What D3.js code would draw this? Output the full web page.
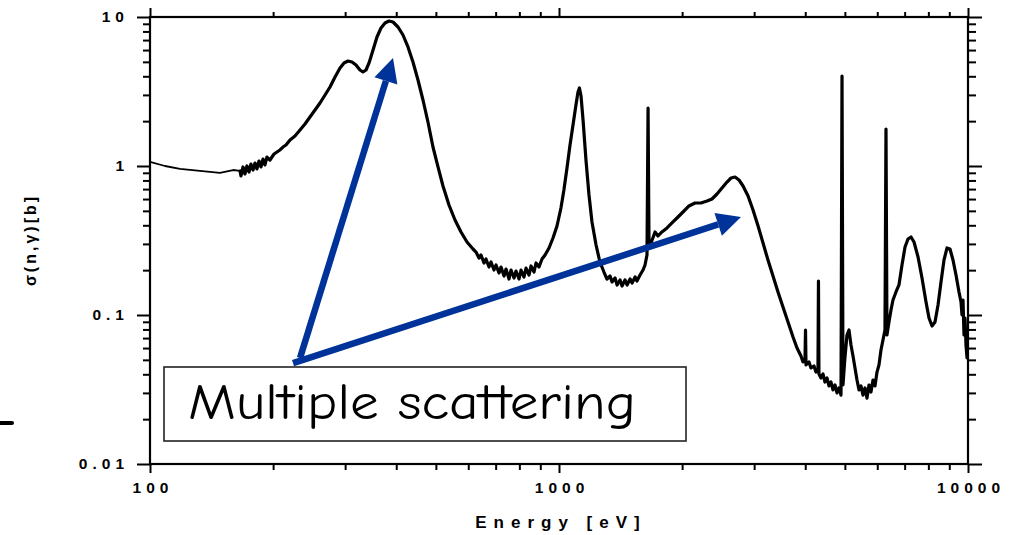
<!DOCTYPE html>
<html>
<head>
<meta charset="utf-8">
<script src="https://cdn.jsdelivr.net/npm/d3@7"></script>
<style>
	body { margin:0; background:#fff; }
	svg { display:block; }
	.tick text { font-family:"Liberation Sans", Arial, sans-serif; font-weight:bold; }
</style>
</head>
<body>
<svg id="chart" width="1013" height="535"></svg>
<script>
"use strict";

// capture cross section
var energy = [100,108.8,118.4,132.5,148.3,159.6,166.0,
	166.9,168.8,170.7,172.6,174.6,176.5,178.6,180.6,182.6,184.7,186.8,188.9,191.0,193.2,196.5,
	201.0,204.4,207.9,211.4,215.0,220.0,226.2,232.7,239.3,246.1,253.2,260.4,267.9,275.5,283.4,291.5,298.1,304.9,311.8,318.9,
	326.1,331.7,337.4,343.2,351.0,358.9,367.1,375.5,384.0,392.8,404.0,415.5,427.3,439.5,452.1,465.0,478.2,491.9,506.0,520.4,
	538.3,556.8,576.0,595.7,616.2,
	626.7,637.4,644.6,655.6,663.0,674.4,682.0,693.6,701.5,713.4,721.5,733.8,742.2,754.8,763.3,776.3,785.1,798.5,807.5,821.2,
	830.6,844.8,854.3,868.9,878.7,893.6,908.8,924.5,
	945.4,966.7,988.8,1011,1028,1046,1064,1082,1101,1113,1122,1132,1145,1164,1184,1204,1232,1259,1288,
	1310,1333,1348,1371,1387,1410,1426,1450,1467,1492,1509,1535,1551,1578,1605,1623,1641,1651,1660,1679,
	1717,1746,1785,1837,1889,1943,2010,2079,2150,2224,2301,2366,2434,2503,2575,2634,2694,2755,2818,2899,
	2981,3067,3154,3243,3336,3431,3529,3630,3734,3819,3905,
	3950,3995,4006,4017,4085,4131,4201,4249,4297,4309,4321,4370,4420,4470,4521,4572,4624,4676,4729,4783,
	4837,4892,4920,4947,5003,5060,5117,5175,5234,5293,5353,5414,5475,5537,5600,5663,5727,5792,5857,5924,
	5991,6058,6127,6196,6266,6302,6337,6409,6482,6555,6667,6780,6896,7015,7134,7255,7379,7548,7719,7895,
	8029,8166,8305,8447,8590,8736,8886,9036,9190,9347,9506,9614,9668,9723,9777,9833,9888,9945];

var sigma = [1.064,1.000,0.955,0.926,0.898,0.940,0.926,
	0.857,0.985,0.884,1.000,0.911,1.031,0.940,1.047,0.955,1.080,0.985,1.114,1.016,1.149,1.097,
	1.204,1.242,1.281,1.341,1.384,1.495,1.590,1.745,1.914,2.133,2.376,2.647,2.996,3.390,3.957,4.547,4.913,5.067,4.989,4.764,
	4.409,4.275,4.409,4.913,6.005,7.340,8.437,9.114,9.402,9.256,8.568,7.571,6.292,4.989,3.778,2.773,1.974,1.341,0.985,0.734,
	0.5474,0.4342,0.3607,0.309,0.2773,
	0.2647,0.2413,0.2527,0.2234,0.2375,0.2099,0.2268,0.2004,0.2166,0.1913,0.2099,0.1827,0.2035,0.1744,0.2004,0.1771,0.1973,0.1744,0.2004,0.1799,
	0.2067,0.1855,0.2133,0.1943,0.2234,0.2099,0.2375,0.2527,
	0.2817,0.3287,0.3957,0.5224,0.690,0.970,1.384,1.885,2.607,3.139,3.338,2.950,2.036,1.097,0.6389,0.4209,0.2950,0.2268,0.1943,
	0.1744,0.1827,0.1665,0.1771,0.1590,0.1718,0.1565,0.1718,0.1590,0.1744,0.1640,0.1799,0.1691,0.1855,0.2004,0.2166,0.2527,2.450,0.2950,0.3042,
	0.3607,0.3390,0.3607,0.3837,0.4145,0.4477,0.4912,0.5390,0.5646,0.5646,0.5822,0.6005,0.6488,0.7116,0.7808,0.8308,0.8437,0.8054,0.734,0.6291,
	0.5066,0.3957,0.3042,0.2339,0.1827,0.1427,0.1131,0.0898,0.0712,0.0601,0.0531,
	0.0484,0.0515,0.0793,0.0462,0.0484,0.0441,0.0455,0.0414,0.0428,0.1691,0.0402,0.0378,0.0402,0.0355,0.0378,0.0334,0.0355,0.0314,0.0339,0.0300,
	0.0324,0.0290,4.018,0.0339,0.0522,0.0734,0.0793,0.0629,0.0531,0.0441,0.0366,0.0314,0.0334,0.0290,0.0324,0.0277,0.0339,0.0304,0.0366,0.0334,
	0.0414,0.0462,0.0582,0.0680,0.0793,1.771,0.0734,0.0898,0.1080,0.1261,0.1427,0.1590,0.2166,0.2861,0.3236,0.3338,0.3090,0.2451,0.1771,0.1223,
	0.0955,0.0844,0.0898,0.1167,0.1665,0.2339,0.2817,0.2773,0.2339,0.1855,0.1427,0.1223,0.1000,0.1261,0.0734,0.0955,0.0629,0.0515];

var thinCount = 7; // first points are the smooth low-res part

var xMajor = [100,1000,10000];
var xMajorLabels = ["100","1000","10000"];
var yMajor = [0.01,0.1,1,10];
var yMajorLabels = ["0.01","0.1","1","10"];
var xMinor = [];
var yMinor = [];
[100,1000].forEach(function(d){ for (var k=2;k<10;k++) xMinor.push(d*k); });
[0.01,0.1,1].forEach(function(d){ for (var k=2;k<10;k++) yMinor.push(d*k); });

var xTitle = "Energy [eV]";
var yTitle = "σ(n,γ)[b]";
var noteText = "Multiple scattering";

// arrows from the note box, [E, sigma] ends
var arrows = [
	{from:[232.7,0.0515], to:[392.8,5.31]},
	{from:[223.7,0.0476], to:[2786,0.4546]}
];

var padL = 150, padR = 968, padT = 17, padB = 464;
var svg = d3.select("#chart");

var x = d3.scaleLog().domain([100,10000]).range([padL,padR]);
var y = d3.scaleLog().domain([0.01,10]).range([padB,padT]);

var pts = energy.map(function(e,i){ return {e:e, s:sigma[i]}; });
var line = d3.line().x(function(d){ return x(d.e); }).y(function(d){ return y(d.s); });

function axisGroup(axis, tx, ty) {
	var g = svg.append("g").attr("transform","translate("+tx+","+ty+")").call(axis);
	g.select(".domain").remove();
	g.selectAll(".tick line").attr("stroke","#000").attr("stroke-width",2);
	return g;
}

// minor ticks
axisGroup(d3.axisLeft(y).tickValues(yMinor).tickSize(7).tickFormat(""), padL, 0);
axisGroup(d3.axisRight(y).tickValues(yMinor).tickSize(8).tickFormat(""), padR, 0);
axisGroup(d3.axisTop(x).tickValues(xMinor).tickSize(5).tickFormat(""), 0, padT);
axisGroup(d3.axisBottom(x).tickValues(xMinor).tickSize(6).tickFormat(""), 0, padB);

// major ticks
var gl = axisGroup(d3.axisLeft(y).tickValues(yMajor).tickSize(13).tickPadding(12)
	.tickFormat(function(d,i){ return yMajorLabels[i]; }), padL, 0);
axisGroup(d3.axisRight(y).tickValues(yMajor).tickSize(14).tickFormat(""), padR, 0);
axisGroup(d3.axisTop(x).tickValues(xMajor).tickSize(9).tickFormat(""), 0, padT);
var gb = axisGroup(d3.axisBottom(x).tickValues(xMajor).tickSize(9).tickPadding(9)
	.tickFormat(function(d,i){ return xMajorLabels[i]; }), 0, padB);

// spaced-out bold labels, placed by measured width
var sp = 5;
gl.selectAll(".tick text").attr("font-size",15.5).attr("fill","#000")
	.style("letter-spacing",sp+"px").attr("text-anchor","start")
	.each(function(){
		var w = this.getComputedTextLength();
		d3.select(this).attr("x", -26 - (w - sp));
	});
gb.selectAll(".tick text").attr("font-size",15.5).attr("fill","#000")
	.style("letter-spacing",sp+"px").attr("text-anchor","start")
	.each(function(){
		var w = this.getComputedTextLength();
		d3.select(this).attr("x", -(w - sp)/2);
	});

// frame
svg.append("rect").attr("x",padL).attr("y",padT).attr("width",padR-padL).attr("height",padB-padT)
	.attr("fill","none").attr("stroke","#000").attr("stroke-width",2.2);

// data
svg.append("path").datum(pts.slice(0,thinCount))
	.attr("d",line).attr("fill","none").attr("stroke","#000")
	.attr("stroke-width",1.8).attr("stroke-linejoin","round");
svg.append("path").datum(pts.slice(thinCount-1))
	.attr("d",line).attr("fill","none").attr("stroke","#000")
	.attr("stroke-width",3.2).attr("stroke-linejoin","round").attr("stroke-linecap","round");

// axis titles
svg.append("text").attr("x",561).attr("y",528)
	.attr("text-anchor","middle")
	.style("font-family","'Liberation Sans', Arial, sans-serif").style("font-weight","bold")
	.style("font-size","17px").style("letter-spacing","7px")
	.text(xTitle);
svg.append("text").attr("transform","translate(36,240) rotate(-90)")
	.attr("text-anchor","middle")
	.style("font-family","'Liberation Sans', Arial, sans-serif").style("font-weight","bold")
	.style("font-size","16px").style("letter-spacing","3px")
	.text(yTitle);

// note box
svg.append("rect").attr("x",164).attr("y",367).attr("width",522).attr("height",74)
	.attr("fill","#fff").attr("stroke","#222").attr("stroke-width",1.6);
svg.append("text").attr("x",188).attr("y",419)
	.attr("textLength",448).attr("lengthAdjust","spacingAndGlyphs")
	.style("font-family","'Comic Sans MS', 'Comic Neue', Lato, sans-serif")
	.style("font-size","50px").attr("fill","#000")
	.text(noteText);

// arrows
var blue = "#003399";
arrows.forEach(function(a){
	var x0 = x(a.from[0]), y0 = y(a.from[1]), x1 = x(a.to[0]), y1 = y(a.to[1]);
	var ang = Math.atan2(y1-y0, x1-x0);
	var hl = 24, hw = 12;
	var bx = x1 - hl*Math.cos(ang), by = y1 - hl*Math.sin(ang);
	svg.append("line").attr("x1",x0).attr("y1",y0).attr("x2",bx).attr("y2",by)
		.attr("stroke",blue).attr("stroke-width",6.5);
	var px = -Math.sin(ang)*hw, py = Math.cos(ang)*hw;
	svg.append("path")
		.attr("d","M"+x1+","+y1+"L"+(bx+px)+","+(by+py)+"L"+(bx-px)+","+(by-py)+"Z")
		.attr("fill",blue);
});

// stray dash at left edge
svg.append("line").attr("x1",0).attr("y1",423).attr("x2",12).attr("y2",423)
	.attr("stroke","#000").attr("stroke-width",4).attr("stroke-linecap","round");
</script>
</body>
</html>
